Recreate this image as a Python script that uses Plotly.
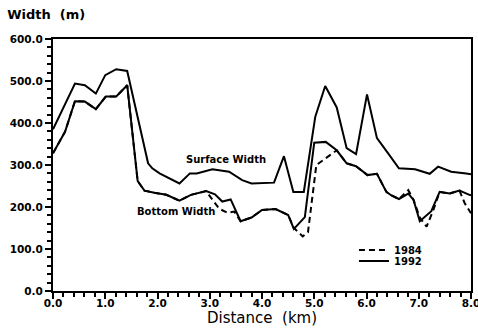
import plotly.graph_objects as go

# Surface width, 1992
surf_x = [0.0, 0.42, 0.61, 0.82, 1.0, 1.21, 1.42, 1.82, 1.9, 2.04, 2.42, 2.62, 2.75, 3.05, 3.37, 3.62, 3.8, 4.23,
          4.42, 4.6, 4.8, 5.02, 5.21, 5.43, 5.62, 5.8, 6.01, 6.2, 6.39, 6.62, 6.93, 7.21, 7.37, 7.62, 7.91, 8.0]
surf_1992 = [385, 494, 490, 470, 514, 528, 524, 304, 292, 280, 256, 280, 280, 290, 284, 264, 256, 258,
             321, 236, 236, 415, 488, 437, 340, 326, 468, 364, 332, 292, 290, 279, 296, 284, 280, 278]

# Bottom width, 1992
bot92_x = [0.0, 0.23, 0.42, 0.61, 0.82, 1.01, 1.21, 1.42, 1.62, 1.75, 1.94, 2.17, 2.42, 2.64, 2.93, 3.1, 3.24,
           3.4, 3.59, 3.8, 4.0, 4.26, 4.5, 4.61, 4.82, 5.0, 5.22, 5.43, 5.62, 5.8, 6.02, 6.2, 6.38, 6.47, 6.62,
           6.8, 6.9, 7.02, 7.24, 7.4, 7.59, 7.78, 7.97, 8.0]
bot_1992 = [328, 379, 452, 451, 433, 463, 463, 490, 262, 239, 234, 229, 215, 229, 238, 230, 213,
            218, 166, 175, 193, 195, 181, 148, 176, 353, 355, 335, 304, 297, 276, 279, 236, 228, 219,
            232, 217, 166, 190, 236, 232, 239, 229, 228]

# Bottom width, 1984
bot84_x = [0.0, 0.23, 0.42, 0.61, 0.82, 1.01, 1.21, 1.42, 1.62, 1.75, 1.94, 2.17, 2.42, 2.64, 2.93, 3.05, 3.18,
           3.34, 3.47, 3.59, 3.8, 4.0, 4.26, 4.5, 4.61, 4.78, 4.88, 5.04, 5.3, 5.43, 5.62, 5.8, 6.02, 6.2, 6.38,
           6.47, 6.62, 6.8, 6.9, 7.02, 7.15, 7.28, 7.4, 7.59, 7.78, 7.88, 8.0]
bot_1984 = [328, 379, 452, 451, 433, 463, 463, 490, 262, 239, 234, 229, 215, 229, 238, 218, 196,
            186, 189, 166, 175, 193, 195, 181, 150, 130, 140, 300, 322, 335, 304, 297, 276, 279, 236,
            228, 219, 240, 217, 175, 153, 193, 236, 232, 239, 209, 185]

x_ticks = [0, 1, 2, 3, 4, 5, 6, 7, 8]
y_ticks = [0, 100, 200, 300, 400, 500, 600]

FONT_B = "DejaVu Sans"

fig = go.Figure()
fig.add_trace(go.Scatter(x=surf_x, y=surf_1992, mode="lines", showlegend=False,
                         line=dict(color="black", width=2)))
fig.add_trace(go.Scatter(x=bot84_x, y=bot_1984, mode="lines", name="1984", legend="legend",
                         line=dict(color="black", width=2, dash="6px,4px")))
fig.add_trace(go.Scatter(x=bot92_x, y=bot_1992, mode="lines", name="1992", legend="legend2",
                         line=dict(color="black", width=2)))

axis_common = dict(showline=True, linecolor="black", linewidth=2, mirror=True, showgrid=False,
                   zeroline=False, ticks="outside", ticklen=6, tickwidth=2, tickcolor="black",
                   tickformat=".1f", automargin=False, ticklabeloverflow="allow",
                   tickfont=dict(family=FONT_B, size=10.5, color="black", weight="bold"))

fig.update_xaxes(range=[0, 8], tickvals=x_ticks, ticklabelstandoff=-5,
                 minor=dict(dtick=0.2, ticks="outside", ticklen=4, tickwidth=1.5, tickcolor="black"),
                 title=dict(text="Distance\u00a0\u00a0(km)", font=dict(family=FONT_B, size=15, color="black"),
                            standoff=0),
                 **axis_common)
fig.update_yaxes(range=[0, 600], tickvals=y_ticks,
                 minor=dict(dtick=20, ticks="outside", ticklen=4, tickwidth=1.5, tickcolor="black"),
                 **axis_common)

fig.add_annotation(x=3.31, y=312, text="Surface Width", showarrow=False,
                   font=dict(family=FONT_B, size=10, color="black", weight="bold"))
fig.add_annotation(x=2.36, y=190, text="Bottom Width", showarrow=False,
                   font=dict(family=FONT_B, size=10, color="black", weight="bold"))

legend_font = dict(family=FONT_B, size=10, color="black", weight="bold")
fig.update_layout(
    width=478, height=328,
    margin=dict(l=53, r=7, t=39, b=37, autoexpand=False),
    paper_bgcolor="white", plot_bgcolor="white",
    title=dict(text="Width\u00a0\u00a0(m)", x=0.015, xanchor="left", xref="container",
               y=0.955, yanchor="middle", yref="container", automargin=False,
               font=dict(family=FONT_B, size=13, color="black", weight="bold")),
    legend=dict(x=0.72, y=0.163, xanchor="left", yanchor="middle", bgcolor="rgba(0,0,0,0)",
                font=legend_font, itemwidth=30),
    legend2=dict(x=0.72, y=0.119, xanchor="left", yanchor="middle", bgcolor="rgba(0,0,0,0)",
                 font=legend_font, itemwidth=30),
)

fig.write_html("out.html", config={"displayModeBar": False},
               post_script="document.body.style.margin='0';")
